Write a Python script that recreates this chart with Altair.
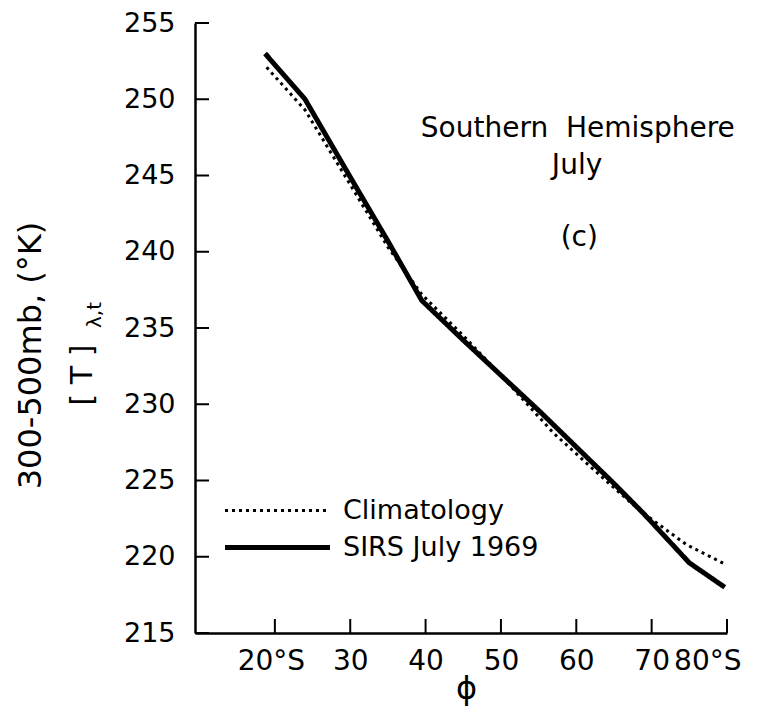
import altair as alt
import pandas as pd

# ---- data ----
lat_sirs = [18.7, 24.0, 30.0, 35.0, 39.5, 45.0, 50.0, 55.0, 60.0, 65.0, 69.0, 75.0, 79.7]
t_sirs = [253.0, 250.0, 244.9, 240.7, 236.8, 234.2, 231.9, 229.6, 227.2, 224.8, 222.8, 219.6, 218.0]

lat_clim = [18.9, 24.0, 30.0, 35.0, 39.5, 45.0, 50.0, 57.0, 63.0, 68.5, 74.6, 79.8]
t_clim = [252.1, 249.3, 244.4, 240.3, 237.2, 234.5, 231.9, 228.1, 225.4, 223.0, 220.8, 219.5]

series_names = ["Climatology", "SIRS July 1969"]

x_ticks = [20, 30, 40, 50, 60, 70, 80]
y_ticks = [215, 220, 225, 230, 235, 240, 245, 250, 255]

note_text = ["Southern\u00a0\u00a0Hemisphere", "July", "(c)"]
note_lat = [60.2, 60.1, 60.4]
note_temp = [247.5, 245.1, 240.4]

FONT = "DejaVu Sans"

df = pd.concat([
    pd.DataFrame({"lat": lat_clim, "temp": t_clim, "series": series_names[0]}),
    pd.DataFrame({"lat": lat_sirs, "temp": t_sirs, "series": series_names[1]}),
], ignore_index=True)

xs = alt.Scale(domain=[9.4, 80], nice=False, zero=False)
ys = alt.Scale(domain=[215, 255], nice=False, zero=False)

x_axis = alt.Axis(
    values=x_ticks, title="ϕ", titleFont=FONT, titleFontSize=32,
    titleFontWeight="normal", titleX=271, titleY=55, titleBaseline="middle",
    titleAngle=0, titleAlign="center", labelOverlap=False,
    labelExpr="(datum.value == 20 || datum.value == 80) ? datum.label + '°S' : datum.label",
    labelOffset={"condition": [{"test": "datum.value == 80", "value": 14},
                               {"test": "datum.value == 20", "value": -4}],
                 "value": 0},
    labelPadding=14, labelFontSize=28)
y_axis = alt.Axis(
    values=y_ticks, title="300-500mb, (°K)", titleFont=FONT, titleFontSize=32,
    titleFontWeight="normal", titleX=-165, titleY=332, titleAngle=270,
    titleAlign="center", titleBaseline="middle", labelOverlap=False,
    labelPadding=20, labelFontSize=27)

legend_spec = alt.Legend(
    title=None, orient="none", legendX=69, legendY=474,
    symbolType="M-5,0H5", symbolSize=441, symbolStrokeColor="black",
    labelFont=FONT, labelFontSize=27, labelColor="black", labelOffset=52,
    labelLimit=400, rowPadding=9, padding=0, offset=0,
)

lines = alt.Chart(df).mark_line(color="black", clip=True).encode(
    x=alt.X("lat:Q", scale=xs, axis=x_axis),
    y=alt.Y("temp:Q", scale=ys, axis=y_axis),
    strokeDash=alt.StrokeDash("series:N", scale=alt.Scale(domain=series_names, range=[[3, 4], [1, 0]]), legend=legend_spec),
    strokeWidth=alt.StrokeWidth("series:N", scale=alt.Scale(domain=series_names, range=[3, 5]), legend=legend_spec),
    order=alt.Order("lat:Q"),
)

ytick_rules = alt.Chart(pd.DataFrame({"temp": y_ticks})).mark_rule(color="black", strokeWidth=2).encode(
    y=alt.Y("temp:Q", scale=ys, axis=y_axis), x=alt.value(0), x2=alt.value(14))
xtick_rules = alt.Chart(pd.DataFrame({"lat": x_ticks})).mark_rule(color="black", strokeWidth=2).encode(
    x=alt.X("lat:Q", scale=xs, axis=x_axis), y=alt.value(610), y2=alt.value(596))

notes = alt.Chart(pd.DataFrame({"txt": note_text, "lat": note_lat, "temp": note_temp})).mark_text(
    font=FONT, fontSize=28, color="black", align="center", baseline="alphabetic").encode(
    x=alt.X("lat:Q", scale=xs, axis=x_axis), y=alt.Y("temp:Q", scale=ys, axis=y_axis), text="txt:N")

one = pd.DataFrame({"a": [0]})
ytitle2 = alt.Chart(one).mark_text(font=FONT, fontSize=30, color="black", angle=270,
                                   align="center", baseline="middle", text="[ T ]").encode(
    x=alt.value(-112), y=alt.value(352))
ytitle2_sub = alt.Chart(one).mark_text(font=FONT, fontSize=20, color="black", angle=270,
                                       align="center", baseline="middle", text="λ,t").encode(
    x=alt.value(-100), y=alt.value(292))

chart = alt.layer(lines, ytick_rules, xtick_rules, notes, ytitle2, ytitle2_sub).properties(
    width=532, height=610,
    autosize=alt.AutoSizeParams(type="none"),
    padding={"left": 187, "top": 15, "right": 48, "bottom": 74},
).configure_view(stroke=None).configure_axis(
    domainColor="black", domainWidth=2.5, ticks=False, grid=False,
    labelFont=FONT, labelColor="black", titleColor="black",
)

chart.save("out.html", embed_options={"renderer": "svg", "actions": False})
